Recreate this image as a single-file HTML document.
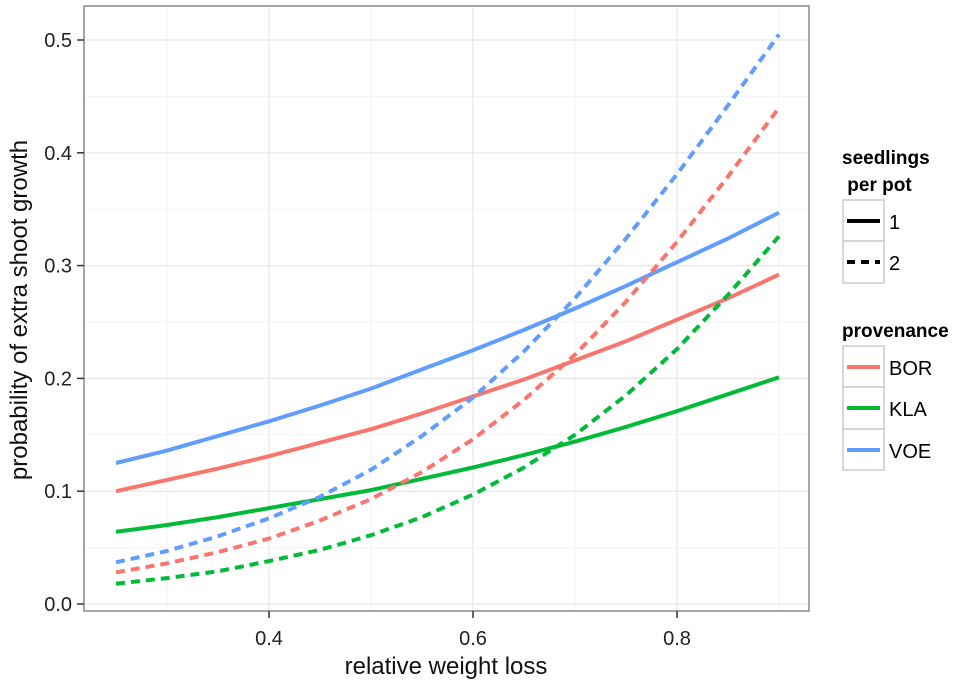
<!DOCTYPE html>
<html><head><meta charset="utf-8"><style>
body{margin:0;background:#fff}
svg text{font-family:"Liberation Sans",sans-serif}
</style></head><body>
<svg id="chart" width="975" height="688">
<rect x="84" y="6" width="725" height="605" fill="#fff" stroke="#888" stroke-width="1.5"/>
<g id="grid"></g><g id="series"></g><g id="axes"></g>
<text x="446" y="674" font-size="24" text-anchor="middle" fill="#111">relative weight loss</text>
<text transform="translate(27,310) rotate(-90)" font-size="24" text-anchor="middle" fill="#111">probability of extra shoot growth</text>
<g>
<text x="842" y="164" font-size="19" font-weight="bold">seedlings</text>
<text x="842" y="191" font-size="19" font-weight="bold" xml:space="preserve"> per pot</text>
<rect x="843" y="200" width="41" height="41" fill="#fff" stroke="#ccc" stroke-width="1.5"/>
<rect x="843" y="241" width="41" height="42" fill="#fff" stroke="#ccc" stroke-width="1.5"/>
<line x1="847" y1="221" x2="880" y2="221" stroke="#000" stroke-width="4"/>
<line x1="847" y1="262" x2="880" y2="262" stroke="#000" stroke-width="4" stroke-dasharray="8,6"/>
<text x="889" y="229" font-size="20">1</text>
<text x="889" y="270" font-size="20">2</text>
</g>
<g>
<text x="842" y="337" font-size="19" font-weight="bold">provenance</text>
<rect x="843" y="346" width="41" height="41" fill="#fff" stroke="#ccc" stroke-width="1.5"/>
<rect x="843" y="387" width="41" height="42" fill="#fff" stroke="#ccc" stroke-width="1.5"/>
<rect x="843" y="429" width="41" height="41" fill="#fff" stroke="#ccc" stroke-width="1.5"/>
<line x1="847" y1="367" x2="880" y2="367" stroke="#F8766D" stroke-width="4"/>
<line x1="847" y1="408" x2="880" y2="408" stroke="#00BA38" stroke-width="4"/>
<line x1="847" y1="450" x2="880" y2="450" stroke="#619CFF" stroke-width="4"/>
<text x="889" y="375" font-size="20">BOR</text>
<text x="889" y="416" font-size="20">KLA</text>
<text x="889" y="458" font-size="20">VOE</text>
</g>
</svg>
<script>
const xs=[0.25,0.3,0.35,0.4,0.45,0.5,0.55,0.6,0.65,0.7,0.75,0.8,0.85,0.9];
const borSolid=[.100,.110,.120,.131,.143,.155,.169,.184,.199,.216,.233,.252,.271,.292];
const klaSolid=[.064,.070,.077,.085,.093,.101,.111,.121,.132,.144,.157,.171,.186,.201];
const voeSolid=[.125,.136,.149,.162,.176,.191,.208,.225,.243,.262,.282,.303,.324,.347];
const borDash=[.028,.036,.046,.058,.074,.093,.117,.146,.181,.221,.268,.321,.379,.440];
const klaDash=[.018,.023,.029,.038,.048,.061,.077,.097,.121,.150,.185,.226,.274,.326];
const voeDash=[.037,.047,.060,.076,.095,.119,.149,.183,.224,.271,.324,.381,.442,.505];
const xTicks=[0.4,0.6,0.8];
const yTicks=[0.0,0.1,0.2,0.3,0.4,0.5];
const X=v=>269+(v-0.4)*1020;
const Y=v=>604-v*1128;
const NS="http://www.w3.org/2000/svg";
function mk(t,a,p){const e=document.createElementNS(NS,t);for(const k in a)e.setAttribute(k,a[k]);p.appendChild(e);return e;}
const grid=document.getElementById('grid'),axes=document.getElementById('axes'),ser=document.getElementById('series');
for(let i=0;i<xTicks.length+1;i++){const v=xTicks[0]-0.1+i*0.2;if(X(v)>84&&X(v)<809){const l=mk('line',{x1:X(v),x2:X(v),y1:7,y2:610,stroke:'#f3f3f3','stroke-width':1},grid);}}
for(let i=0;i<yTicks.length;i++){const v=yTicks[i]+0.05;if(Y(v)>7){const l=mk('line',{x1:85,x2:808,y1:Y(v),y2:Y(v),stroke:'#f3f3f3','stroke-width':1},grid);}}
xTicks.forEach(v=>{const l=mk('line',{x1:X(v),x2:X(v),y1:7,y2:610,stroke:'#e6e6e6','stroke-width':1.2},grid);
const t=mk('line',{x1:X(v),x2:X(v),y1:611,y2:618,stroke:'#333','stroke-width':1.5},axes);
const tx=mk('text',{x:X(v),y:645,'font-size':20,'text-anchor':'middle',fill:'#222'},axes);tx.textContent=v.toFixed(1);});
yTicks.forEach(v=>{const l=mk('line',{x1:85,x2:808,y1:Y(v),y2:Y(v),stroke:'#e6e6e6','stroke-width':1.2},grid);
const t=mk('line',{x1:77,x2:84,y1:Y(v),y2:Y(v),stroke:'#333','stroke-width':1.5},axes);
const tx=mk('text',{x:72,y:Y(v)+7,'font-size':20,'text-anchor':'end',fill:'#222'},axes);tx.textContent=v.toFixed(1);});
const series=[[borSolid,'#F8766D',0,'line-bor-1'],[klaSolid,'#00BA38',0,'line-kla-1'],[voeSolid,'#619CFF',0,'line-voe-1'],[borDash,'#F8766D',1,'line-bor-2'],[klaDash,'#00BA38',1,'line-kla-2'],[voeDash,'#619CFF',1,'line-voe-2']];
series.forEach(s=>{const d=xs.map((x,i)=>(i?'L':'M')+X(x).toFixed(1)+','+Y(s[0][i]).toFixed(1)).join('');
const p=mk('path',{d:d,fill:'none',stroke:s[1],'stroke-width':4,'stroke-linejoin':'round'},ser);if(s[2])p.setAttribute('stroke-dasharray','9,6');

});
</script>
</body></html>
